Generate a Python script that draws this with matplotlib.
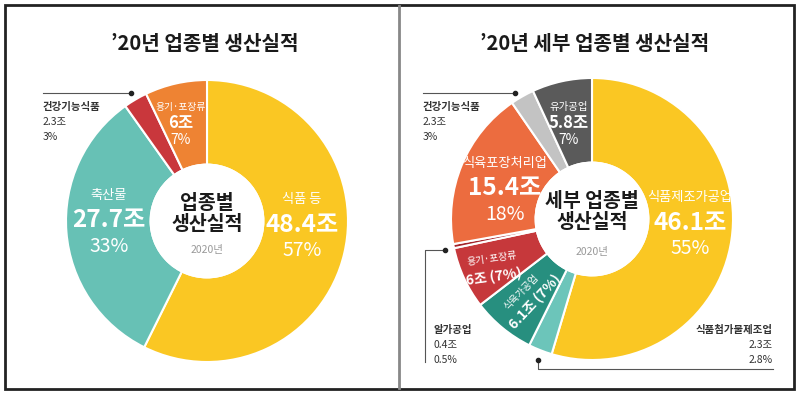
import matplotlib
matplotlib.use("Agg")
import matplotlib.pyplot as plt
from matplotlib.patches import Rectangle, Circle

plt.rcParams['font.family'] = ['Noto Sans CJK KR', 'DejaVu Sans']

# ---- data ----
left_title = "’20년 업종별 생산실적"
left_cats = ["식품 등", "축산물", "건강기능식품", "용기·포장류"]
left_vals = [48.4, 27.7, 2.3, 6.0]
left_pcts = ["57%", "33%", "3%", "7%"]
left_colors = ["#FAC723", "#67C1B5", "#C9373C", "#EE8333"]

right_title = "’20년 세부 업종별 생산실적"
right_cats = ["식품제조가공업", "식품첨가물제조업", "식육가공업", "용기·포장류",
              "알가공업", "식육포장처리업", "건강기능식품", "유가공업"]
right_vals = [46.1, 2.3, 6.1, 6.0, 0.4, 15.4, 2.3, 5.8]
right_pcts = ["55%", "2.8%", "7%", "7%", "0.5%", "18%", "3%", "7%"]
right_colors = ["#FAC723", "#6CC5BA", "#278F7F", "#C6383B",
                "#A3232A", "#EC6C3F", "#C3C3C3", "#5A5A5A"]

center_main_left = "업종별\n생산실적"
center_main_right = "세부 업종별\n생산실적"
center_year = "2020년"

W, H = 800, 393
fig = plt.figure(figsize=(8.0, 3.93), dpi=100)
ax = fig.add_axes([0, 0, 1, 1])

def Y(y):
    return H - y

R = 141
WIDTH = 0.6

def donut(cx, cy, vals, colors):
    ax.pie(vals, colors=colors, startangle=90, counterclock=False,
           center=(cx, Y(cy)), radius=R,
           wedgeprops=dict(width=R * WIDTH, edgecolor="white", linewidth=1.5))
    ax.add_patch(Circle((cx, Y(cy)), R * (1 - WIDTH) + 1, fc="white", ec="none", zorder=3))

# ---- donuts ----
lcx, lcy = 207, 221
donut(lcx, lcy, left_vals, left_colors)
rcx, rcy = 592, 219
donut(rcx, rcy, right_vals, right_colors)

ax.set_xlim(0, W)
ax.set_ylim(0, H)
ax.set_aspect('equal')
ax.axis('off')

# frame
ax.add_patch(Rectangle((5, Y(389)), 789, 384, fill=False, ec="#222222", lw=2))
ax.plot([399, 399], [Y(6), Y(388)], color="#888888", lw=2)

def inlabel(x, y, cat, val, pct, s1=9.5, s2=17.5, s3=14, gap1=25, gap2=26):
    ax.text(x, Y(y), cat, ha='center', va='center', fontsize=s1, color='white', zorder=4)
    ax.text(x, Y(y + gap1), val, ha='center', va='center', fontsize=s2,
            color='white', fontweight='bold', zorder=4)
    ax.text(x, Y(y + gap1 + gap2), pct, ha='center', va='center', fontsize=s3,
            color='white', zorder=4)

def outlabel(x, y, cat, val, pct, ha='left'):
    ax.text(x, Y(y), cat, ha=ha, va='center', fontsize=7.5, color="#333333", fontweight='bold')
    ax.text(x, Y(y + 15), val, ha=ha, va='center', fontsize=7.5, color="#333333")
    ax.text(x, Y(y + 30), pct, ha=ha, va='center', fontsize=7.5, color="#333333")

# ---- left texts ----
ax.text(205, Y(44), left_title, ha='center', va='center', fontsize=14.5,
        fontweight='bold', color="#1a1a1a")
ax.text(lcx, Y(214), center_main_left, ha='center', va='center', fontsize=14,
        fontweight='bold', color="#1a1a1a", linespacing=1.15, zorder=4)
ax.text(lcx, Y(250), center_year, ha='center', va='center', fontsize=7.5,
        color="#999999", zorder=4)

inlabel(302, 200, left_cats[0], f"{left_vals[0]:g}조", left_pcts[0])
inlabel(109, 195, left_cats[1], f"{left_vals[1]:g}조", left_pcts[1])
inlabel(181, 107, left_cats[3], f"{left_vals[3]:g}조", left_pcts[3],
        s1=7, s2=12, s3=10, gap1=16, gap2=17)

outlabel(43, 107, left_cats[2], f"{left_vals[2]:g}조", left_pcts[2])
ax.plot([43, 131], [Y(93), Y(93)], color="#555555", lw=0.8)
ax.plot([131], [Y(93)], 'o', color="#222222", ms=3)

# ---- right texts ----
ax.text(595, Y(44), right_title, ha='center', va='center', fontsize=14.5,
        fontweight='bold', color="#1a1a1a")
ax.text(rcx, Y(212), center_main_right, ha='center', va='center', fontsize=14,
        fontweight='bold', color="#1a1a1a", linespacing=1.15, zorder=4)
ax.text(rcx, Y(252), center_year, ha='center', va='center', fontsize=7.5,
        color="#999999", zorder=4)

inlabel(690, 198, right_cats[0], f"{right_vals[0]:g}조", right_pcts[0])
inlabel(505, 163, right_cats[5], f"{right_vals[5]:g}조", right_pcts[5])
inlabel(569, 107, right_cats[7], f"{right_vals[7]:g}조", right_pcts[7],
        s1=7.5, s2=12, s3=10, gap1=16, gap2=17)

# rotated labels
ax.text(492, Y(259), right_cats[3], ha='center', va='center', fontsize=7,
        color='white', rotation=8, zorder=4)
ax.text(494, Y(277), f"{right_vals[3]:g}조 ({right_pcts[3]})", ha='center', va='center',
        fontsize=10, color='white', fontweight='bold', rotation=8, zorder=4)
ax.text(521, Y(292), right_cats[2], ha='center', va='center', fontsize=7,
        color='white', rotation=46, zorder=4)
ax.text(535, Y(302), f"{right_vals[2]:g}조 ({right_pcts[2]})", ha='center', va='center',
        fontsize=10, color='white', fontweight='bold', rotation=47, zorder=4)

outlabel(423, 107, right_cats[6], f"{right_vals[6]:g}조", right_pcts[6])
ax.plot([423, 515], [Y(93), Y(93)], color="#555555", lw=0.8)
ax.plot([515], [Y(93)], 'o', color="#222222", ms=3)

outlabel(433, 330, right_cats[4], f"{right_vals[4]:g}조", right_pcts[4])
ax.plot([445, 425, 425], [Y(250), Y(250), Y(362)], color="#555555", lw=0.8)
ax.plot([445], [Y(250)], 'o', color="#222222", ms=3)

outlabel(773, 330, right_cats[1], f"{right_vals[1]:g}조", right_pcts[1], ha='right')
ax.plot([538, 538, 773], [Y(360), Y(369), Y(369)], color="#555555", lw=0.8)
ax.plot([538], [Y(360)], 'o', color="#222222", ms=3)

fig.savefig("out.png", dpi=100)
